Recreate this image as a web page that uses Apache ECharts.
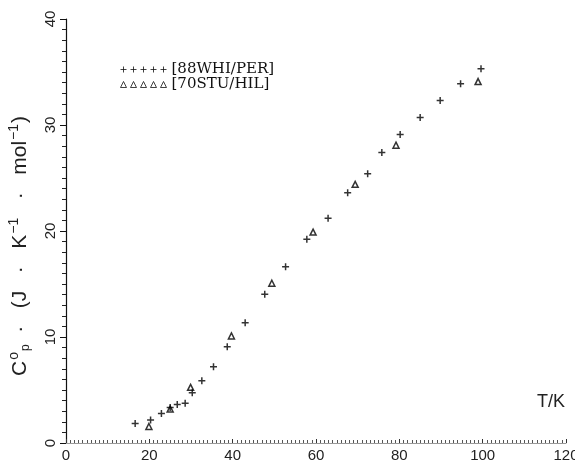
<!DOCTYPE html>
<html>
<head>
<meta charset="utf-8">
<script src="https://cdn.jsdelivr.net/npm/echarts@6/dist/echarts.min.js"></script>
<style>
  html, body { margin: 0; padding: 0; background: #fff; }
  #main { width: 575px; height: 465px; }
</style>
</head>
<body>
<div id="main"></div>
<script>
// [88WHI/PER] points: temperature T/K and Cp
var whiT = [16.6, 20.3, 22.9, 25.0, 26.7, 28.6, 30.3, 32.6, 35.4, 38.7, 43.0, 47.7, 52.7,
            57.8, 62.9, 67.6, 72.4, 75.8, 80.2, 85.0, 89.8, 94.7, 99.6];
var whiCp = [1.84, 2.17, 2.78, 3.35, 3.63, 3.75, 4.75, 5.88, 7.2, 9.08, 11.35, 14.03, 16.63,
             19.22, 21.2, 23.6, 25.4, 27.4, 29.1, 30.7, 32.3, 33.9, 35.3];
// [70STU/HIL] points
var stuT = [19.9, 25.0, 29.9, 39.7, 49.4, 59.3, 69.4, 79.2, 98.9];
var stuCp = [1.56, 3.2, 5.25, 10.1, 15.07, 19.9, 24.4, 28.1, 34.1];

var xTicks = [0, 20, 40, 60, 80, 100, 120];
var yTicks = [0, 10, 20, 30, 40];

function pairs (xs, ys) {
  return xs.map(function (x, i) { return [x, ys[i]]; });
}

// five small symbols in a row for the legend
function rowIcon (kind) {
  var d = '';
  for (var i = 0; i < 5; i++) {
    var cx = 3 + i * 10;
    if (kind === 'plus') d += 'M' + (cx - 3) + ',3H' + (cx + 3) + 'M' + cx + ',0V6';
    else d += 'M' + (cx - 3) + ',6L' + cx + ',0L' + (cx + 3) + ',6Z';
  }
  return 'path://' + d;
}

var plusPath = 'path://M0,4H8M4,0V8';
var markStyle = { color: 'transparent', borderColor: '#000', borderWidth: 1.5 };

var myChart = echarts.init(document.getElementById('main'));
var option = {
  backgroundColor: '#fff',
  animation: false,
  grid: { left: 66, top: 19, right: 9, bottom: 22, containLabel: false, outerBoundsMode: 'none' },
  legend: {
    left: 115,
    top: 57,
    orient: 'vertical',
    itemWidth: 46,
    itemHeight: 6,
    itemGap: 0,
    textStyle: { fontFamily: 'DejaVu Serif', fontSize: 15, color: '#111', lineHeight: 14 },
    data: [
      { name: '[88WHI/PER]', icon: rowIcon('plus'), itemStyle: { color: 'transparent', borderColor: '#111', borderWidth: 1 } },
      { name: '[70STU/HIL]', icon: rowIcon('tri'), itemStyle: { color: 'transparent', borderColor: '#111', borderWidth: 1 } }
    ]
  },
  xAxis: {
    type: 'value',
    min: 0,
    max: 120,
    interval: 20,
    name: 'T/K',
    nameLocation: 'end',
    nameGap: -1,
    nameTextStyle: { fontFamily: 'Liberation Sans', fontSize: 18, color: '#222', align: 'right', verticalAlign: 'bottom', padding: [0, 0, 32, 0] },
    axisLine: { lineStyle: { color: '#999', width: 1 } },
    axisTick: { inside: true, length: 4, lineStyle: { color: '#333' } },
    minorTick: { show: true, splitNumber: 20, length: 3, lineStyle: { color: '#555' } },
    axisLabel: {
      margin: 5,
      fontFamily: 'Liberation Sans', fontSize: 15, color: '#222',
      formatter: function (v) { return xTicks.indexOf(v) >= 0 ? String(v) : ''; }
    },
    splitLine: { show: false }
  },
  yAxis: {
    type: 'value',
    min: 0,
    max: 40,
    interval: 10,
    name: '{c|C}{sup|o}{sub|p}{t|  ·   (J   ·   K}{sup|−1}{t|   ·   mol}{sup|−1}{t|)}',
    nameLocation: 'middle',
    nameGap: 33,
    nameRotate: 90,
    nameTextStyle: {
      color: '#222',
      padding: [0, 30, 0, 0],
      rich: {
        c: { fontFamily: 'Liberation Sans', fontSize: 21, color: '#222' },
        t: { fontFamily: 'Liberation Sans', fontSize: 21, color: '#222' },
        sup: { fontFamily: 'Liberation Sans', fontSize: 14, color: '#222', padding: [0, 1, 12, 1] },
        sub: { fontFamily: 'Liberation Sans', fontSize: 12, color: '#222', padding: [12, 0, 0, 0] }
      }
    },
    axisLine: { lineStyle: { color: '#111', width: 1.2 } },
    axisTick: { length: 6, lineStyle: { color: '#111' } },
    minorTick: { show: true, splitNumber: 10, length: 4, lineStyle: { color: '#222' } },
    axisLabel: {
      rotate: 90,
      margin: 8,
      fontFamily: 'Liberation Sans', fontSize: 15, color: '#222',
      formatter: function (v) { return yTicks.indexOf(v) >= 0 ? String(v) : ''; }
    },
    splitLine: { show: false }
  },
  series: [
    {
      name: '[88WHI/PER]',
      type: 'scatter',
      symbol: plusPath,
      symbolSize: 7,
      itemStyle: markStyle,
      data: pairs(whiT, whiCp)
    },
    {
      name: '[70STU/HIL]',
      type: 'scatter',
      symbol: 'triangle',
      symbolSize: 6,
      itemStyle: markStyle,
      data: pairs(stuT, stuCp)
    }
  ]
};
myChart.setOption(option);
</script>
</body>
</html>
